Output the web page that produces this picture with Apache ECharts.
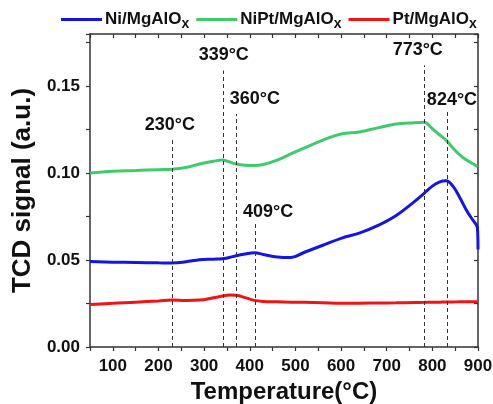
<!DOCTYPE html>
<html>
<head>
<meta charset="utf-8">
<script src="https://cdn.jsdelivr.net/npm/echarts@6/dist/echarts.min.js"></script>
<style>
html, body { margin: 0; padding: 0; background: #fff; }
#main { width: 493px; height: 404px; }
</style>
</head>
<body>
<div id="main"></div>
<script>
// temperature (°C) shared by the three curves
var temperature = [50, 100, 150, 200, 230, 260, 290, 320, 340, 355, 370, 390, 410, 430, 460, 490, 520, 560, 600, 640, 680, 720, 760, 782, 800, 815, 830, 845, 860, 875, 890, 897, 899, 900];
var niSignal = [0.0491, 0.0488, 0.0486, 0.0484, 0.0483, 0.0490, 0.0502, 0.0505, 0.0507, 0.0515, 0.0525, 0.0535, 0.0542, 0.0532, 0.0518, 0.0515, 0.0545, 0.0585, 0.0625, 0.0655, 0.0698, 0.0755, 0.0835, 0.0884, 0.0925, 0.0948, 0.0956, 0.0925, 0.0860, 0.0785, 0.0725, 0.0700, 0.0675, 0.0560];
var niptSignal = [0.1000, 0.1010, 0.1015, 0.1020, 0.1022, 0.1032, 0.1052, 0.1068, 0.1075, 0.1065, 0.1052, 0.1045, 0.1044, 0.1050, 0.1075, 0.1110, 0.1145, 0.1190, 0.1225, 0.1237, 0.1260, 0.1282, 0.1290, 0.1292, 0.1255, 0.1222, 0.1190, 0.1145, 0.1105, 0.1075, 0.1052, 0.1040, 0.1036, 0.1035];
var ptSignal = [0.0245, 0.0251, 0.0258, 0.0265, 0.0270, 0.0268, 0.0270, 0.0283, 0.0293, 0.0299, 0.0297, 0.0284, 0.0268, 0.0262, 0.0260, 0.0258, 0.0257, 0.0255, 0.0252, 0.0252, 0.0253, 0.0254, 0.0256, 0.0257, 0.0258, 0.0258, 0.0259, 0.0259, 0.0260, 0.0260, 0.0260, 0.0260, 0.0260, 0.0260];

// dashed peak markers and their labels
var peakLineX = [230, 341, 370, 411, 782, 832];
var peakLineTop = [0.119, 0.159, 0.134, 0.0713, 0.162, 0.136];
var peakLabels = ['230°C', '339°C', '360°C', '409°C', '773°C', '824°C'];
var peakLabelX = [225, 343, 411, 440, 768, 843];
var peakLabelY = [0.1277, 0.168, 0.1426, 0.0776, 0.1708, 0.142];

var seriesNames = ['Ni/MgAlOx', 'NiPt/MgAlOx', 'Pt/MgAlOx'];
var seriesColors = ['#1414e6', '#3ecb6c', '#f01414'];

function pairs(xs, ys) {
  return xs.map(function (x, i) { return [x, ys[i]]; });
}

var font = 'Liberation Sans, Arial, sans-serif';
var axisColor = '#333';

var chart = echarts.init(document.getElementById('main'));

var markLines = peakLineX.map(function (x, i) {
  return [{ coord: [x, 0] }, { coord: [x, peakLineTop[i]] }];
});

var lineSeries = [niSignal, niptSignal, ptSignal].map(function (vals, i) {
  return {
    name: seriesNames[i],
    type: 'line',
    data: pairs(temperature, vals),
    showSymbol: false,
    smooth: 0.4,
    lineStyle: { width: 3, color: seriesColors[i] },
    itemStyle: { color: seriesColors[i] },
    z: 3
  };
});

lineSeries[2].markLine = {
  silent: true,
  symbol: 'none',
  label: { show: false },
  lineStyle: { color: '#333', type: [4, 3], width: 1 },
  data: markLines
};

var option = {
  animation: false,
  textStyle: { fontFamily: font },
  grid: { left: 90, right: 15, top: 34, bottom: 57, outerBoundsMode: 'none' },
  legend: {
    data: seriesNames,
    left: 61,
    top: 11,
    padding: 0,
    icon: 'rect',
    itemWidth: 41,
    itemHeight: 3,
    itemGap: 7,
    formatter: function (name) {
      return name.replace(/x$/, '') + '{sub|x}';
    },
    textStyle: {
      fontFamily: font,
      fontSize: 17,
      fontWeight: 'bold',
      color: '#111',
      padding: [0, 0, 0, -2],
      rich: {
        sub: { fontFamily: font, fontSize: 14, fontWeight: 'bold', color: '#111', padding: [10, 0, 0, 0] }
      }
    }
  },
  xAxis: [{
    type: 'value',
    min: 50,
    max: 900,
    interval: 50,
    name: 'Temperature(°C)',
    nameLocation: 'middle',
    nameGap: 26,
    nameTextStyle: { fontFamily: font, fontSize: 24, fontWeight: 'bold', color: '#111' },
    axisLine: { show: true, onZero: false, lineStyle: { color: axisColor, width: 1.5 } },
    axisTick: { show: true, inside: false, length: 4, lineStyle: { color: axisColor, width: 1.2 } },
    axisLabel: {
      margin: 11,
      fontFamily: font,
      fontSize: 17,
      fontWeight: 'bold',
      color: '#111',
      formatter: function (v) { return v % 100 === 0 ? String(v) : ''; }
    },
    splitLine: { show: false }
  }, {
    type: 'value',
    position: 'top',
    min: 50,
    max: 900,
    interval: 50,
    axisLine: { show: true, onZero: false, lineStyle: { color: axisColor, width: 1.5 } },
    axisTick: { show: true, inside: true, length: 4, lineStyle: { color: axisColor, width: 1.2 } },
    axisLabel: { show: false },
    splitLine: { show: false }
  }],
  yAxis: [{
    type: 'value',
    min: 0,
    max: 0.18,
    interval: 0.025,
    name: 'TCD signal (a.u.)',
    nameLocation: 'middle',
    nameGap: 52,
    nameTextStyle: { fontFamily: font, fontSize: 26, fontWeight: 'bold', color: '#111' },
    axisLine: { show: true, onZero: false, lineStyle: { color: axisColor, width: 1.5 } },
    axisTick: { show: true, inside: false, length: 4, lineStyle: { color: axisColor, width: 1.2 } },
    axisLabel: {
      margin: 10,
      fontFamily: font,
      fontSize: 17,
      fontWeight: 'bold',
      color: '#111',
      formatter: function (v) {
        var k = Math.round(v * 1000);
        return (k % 50 === 0 && k <= 150) ? v.toFixed(2) : '';
      }
    },
    splitLine: { show: false }
  }, {
    type: 'value',
    position: 'right',
    min: 0,
    max: 0.18,
    interval: 0.025,
    axisLine: { show: true, onZero: false, lineStyle: { color: axisColor, width: 1.5 } },
    axisTick: { show: true, inside: true, length: 4, lineStyle: { color: axisColor, width: 1.2 } },
    axisLabel: { show: false },
    splitLine: { show: false }
  }],
  series: lineSeries.concat([{
    name: 'peaks',
    type: 'scatter',
    symbolSize: 0,
    silent: true,
    itemStyle: { opacity: 1 },
    data: pairs(peakLabelX, peakLabelY),
    label: {
      show: true,
      position: 'inside',
      opacity: 1,
      fontFamily: font,
      fontSize: 18,
      fontWeight: 'bold',
      color: '#111',
      formatter: function (p) { return peakLabels[p.dataIndex]; }
    },
    z: 5
  }])
};

chart.setOption(option);
</script>
</body>
</html>
